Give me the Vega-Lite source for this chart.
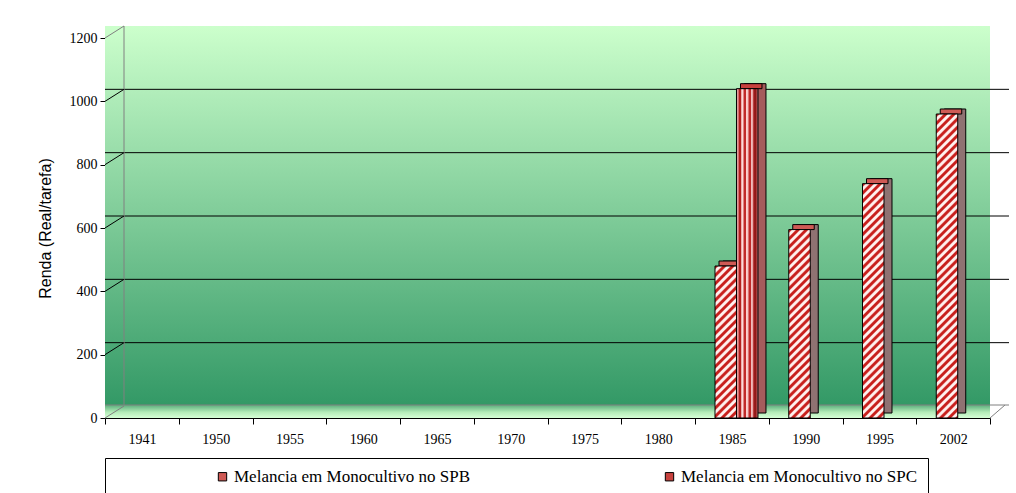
{
  "$schema": "https://vega.github.io/schema/vega-lite/v6.json",
  "width": 885,
  "height": 380,
  "autosize": {"type": "none"},
  "padding": {"left": 105, "top": 38, "right": 26, "bottom": 75},
  "background": "#ffffff",
  "config": {
    "view": {"stroke": null},
    "axis": {"grid": false},
    "axisX": {"labelAngle": 0, "labelFont": "Liberation Serif", "labelFontSize": 14, "labelColor": "#000000", "labelPadding": 8, "tickBand": "extent", "tickSize": 6, "tickColor": "#000000", "domainColor": "#000000", "zindex": 1},
    "axisY": {"labelFont": "Liberation Serif", "labelFontSize": 14, "labelColor": "#000000", "labelPadding": 3, "tickSize": 5, "tickColor": "#000000", "domainColor": "#000000", "zindex": 1, "titleFont": "Liberation Sans", "titleFontSize": 16, "titleFontWeight": "normal", "titleColor": "#000000"}
  },
  "params": [
    {"name": "stripes", "value": [
      {"offset":0,"color":"#c8201d"},{"offset":0.0075,"color":"#c8201d"},{"offset":0.0125,"color":"#fff0ee"},{"offset":0.02,"color":"#fff0ee"},
      {"offset":0.025,"color":"#c8201d"},{"offset":0.0325,"color":"#c8201d"},{"offset":0.0375,"color":"#fff0ee"},{"offset":0.045,"color":"#fff0ee"},
      {"offset":0.05,"color":"#c8201d"},{"offset":0.0575,"color":"#c8201d"},{"offset":0.0625,"color":"#fff0ee"},{"offset":0.07,"color":"#fff0ee"},
      {"offset":0.075,"color":"#c8201d"},{"offset":0.0825,"color":"#c8201d"},{"offset":0.0875,"color":"#fff0ee"},{"offset":0.095,"color":"#fff0ee"},
      {"offset":0.1,"color":"#c8201d"},{"offset":0.1075,"color":"#c8201d"},{"offset":0.1125,"color":"#fff0ee"},{"offset":0.12,"color":"#fff0ee"},
      {"offset":0.125,"color":"#c8201d"},{"offset":0.1325,"color":"#c8201d"},{"offset":0.1375,"color":"#fff0ee"},{"offset":0.145,"color":"#fff0ee"},
      {"offset":0.15,"color":"#c8201d"},{"offset":0.1575,"color":"#c8201d"},{"offset":0.1625,"color":"#fff0ee"},{"offset":0.17,"color":"#fff0ee"},
      {"offset":0.175,"color":"#c8201d"},{"offset":0.1825,"color":"#c8201d"},{"offset":0.1875,"color":"#fff0ee"},{"offset":0.195,"color":"#fff0ee"},
      {"offset":0.2,"color":"#c8201d"},{"offset":0.2075,"color":"#c8201d"},{"offset":0.2125,"color":"#fff0ee"},{"offset":0.22,"color":"#fff0ee"},
      {"offset":0.225,"color":"#c8201d"},{"offset":0.2325,"color":"#c8201d"},{"offset":0.2375,"color":"#fff0ee"},{"offset":0.245,"color":"#fff0ee"},
      {"offset":0.25,"color":"#c8201d"},{"offset":0.2575,"color":"#c8201d"},{"offset":0.2625,"color":"#fff0ee"},{"offset":0.27,"color":"#fff0ee"},
      {"offset":0.275,"color":"#c8201d"},{"offset":0.2825,"color":"#c8201d"},{"offset":0.2875,"color":"#fff0ee"},{"offset":0.295,"color":"#fff0ee"},
      {"offset":0.3,"color":"#c8201d"},{"offset":0.3075,"color":"#c8201d"},{"offset":0.3125,"color":"#fff0ee"},{"offset":0.32,"color":"#fff0ee"},
      {"offset":0.325,"color":"#c8201d"},{"offset":0.3325,"color":"#c8201d"},{"offset":0.3375,"color":"#fff0ee"},{"offset":0.345,"color":"#fff0ee"},
      {"offset":0.35,"color":"#c8201d"},{"offset":0.3575,"color":"#c8201d"},{"offset":0.3625,"color":"#fff0ee"},{"offset":0.37,"color":"#fff0ee"},
      {"offset":0.375,"color":"#c8201d"},{"offset":0.3825,"color":"#c8201d"},{"offset":0.3875,"color":"#fff0ee"},{"offset":0.395,"color":"#fff0ee"},
      {"offset":0.4,"color":"#c8201d"},{"offset":0.4075,"color":"#c8201d"},{"offset":0.4125,"color":"#fff0ee"},{"offset":0.42,"color":"#fff0ee"},
      {"offset":0.425,"color":"#c8201d"},{"offset":0.4325,"color":"#c8201d"},{"offset":0.4375,"color":"#fff0ee"},{"offset":0.445,"color":"#fff0ee"},
      {"offset":0.45,"color":"#c8201d"},{"offset":0.4575,"color":"#c8201d"},{"offset":0.4625,"color":"#fff0ee"},{"offset":0.47,"color":"#fff0ee"},
      {"offset":0.475,"color":"#c8201d"},{"offset":0.4825,"color":"#c8201d"},{"offset":0.4875,"color":"#fff0ee"},{"offset":0.495,"color":"#fff0ee"},
      {"offset":0.5,"color":"#c8201d"},{"offset":0.5075,"color":"#c8201d"},{"offset":0.5125,"color":"#fff0ee"},{"offset":0.52,"color":"#fff0ee"},
      {"offset":0.525,"color":"#c8201d"},{"offset":0.5325,"color":"#c8201d"},{"offset":0.5375,"color":"#fff0ee"},{"offset":0.545,"color":"#fff0ee"},
      {"offset":0.55,"color":"#c8201d"},{"offset":0.5575,"color":"#c8201d"},{"offset":0.5625,"color":"#fff0ee"},{"offset":0.57,"color":"#fff0ee"},
      {"offset":0.575,"color":"#c8201d"},{"offset":0.5825,"color":"#c8201d"},{"offset":0.5875,"color":"#fff0ee"},{"offset":0.595,"color":"#fff0ee"},
      {"offset":0.6,"color":"#c8201d"},{"offset":0.6075,"color":"#c8201d"},{"offset":0.6125,"color":"#fff0ee"},{"offset":0.62,"color":"#fff0ee"},
      {"offset":0.625,"color":"#c8201d"},{"offset":0.6325,"color":"#c8201d"},{"offset":0.6375,"color":"#fff0ee"},{"offset":0.645,"color":"#fff0ee"},
      {"offset":0.65,"color":"#c8201d"},{"offset":0.6575,"color":"#c8201d"},{"offset":0.6625,"color":"#fff0ee"},{"offset":0.67,"color":"#fff0ee"},
      {"offset":0.675,"color":"#c8201d"},{"offset":0.6825,"color":"#c8201d"},{"offset":0.6875,"color":"#fff0ee"},{"offset":0.695,"color":"#fff0ee"},
      {"offset":0.7,"color":"#c8201d"},{"offset":0.7075,"color":"#c8201d"},{"offset":0.7125,"color":"#fff0ee"},{"offset":0.72,"color":"#fff0ee"},
      {"offset":0.725,"color":"#c8201d"},{"offset":0.7325,"color":"#c8201d"},{"offset":0.7375,"color":"#fff0ee"},{"offset":0.745,"color":"#fff0ee"},
      {"offset":0.75,"color":"#c8201d"},{"offset":0.7575,"color":"#c8201d"},{"offset":0.7625,"color":"#fff0ee"},{"offset":0.77,"color":"#fff0ee"},
      {"offset":0.775,"color":"#c8201d"},{"offset":0.7825,"color":"#c8201d"},{"offset":0.7875,"color":"#fff0ee"},{"offset":0.795,"color":"#fff0ee"},
      {"offset":0.8,"color":"#c8201d"},{"offset":0.8075,"color":"#c8201d"},{"offset":0.8125,"color":"#fff0ee"},{"offset":0.82,"color":"#fff0ee"},
      {"offset":0.825,"color":"#c8201d"},{"offset":0.8325,"color":"#c8201d"},{"offset":0.8375,"color":"#fff0ee"},{"offset":0.845,"color":"#fff0ee"},
      {"offset":0.85,"color":"#c8201d"},{"offset":0.8575,"color":"#c8201d"},{"offset":0.8625,"color":"#fff0ee"},{"offset":0.87,"color":"#fff0ee"},
      {"offset":0.875,"color":"#c8201d"},{"offset":0.8825,"color":"#c8201d"},{"offset":0.8875,"color":"#fff0ee"},{"offset":0.895,"color":"#fff0ee"},
      {"offset":0.9,"color":"#c8201d"},{"offset":0.9075,"color":"#c8201d"},{"offset":0.9125,"color":"#fff0ee"},{"offset":0.92,"color":"#fff0ee"},
      {"offset":0.925,"color":"#c8201d"},{"offset":0.9325,"color":"#c8201d"},{"offset":0.9375,"color":"#fff0ee"},{"offset":0.945,"color":"#fff0ee"},
      {"offset":0.95,"color":"#c8201d"},{"offset":0.9575,"color":"#c8201d"},{"offset":0.9625,"color":"#fff0ee"},{"offset":0.97,"color":"#fff0ee"},
      {"offset":0.975,"color":"#c8201d"},{"offset":0.9825,"color":"#c8201d"},{"offset":0.9875,"color":"#fff0ee"},{"offset":0.995,"color":"#fff0ee"},
      {"offset":1,"color":"#c8201d"}
    ]},
    {"name": "spcgrad", "value": {"gradient": "linear", "x1": 0, "y1": 0, "x2": 1, "y2": 0, "stops": [
      {"offset":0,"color":"#eaa4a4"},{"offset":0.08,"color":"#e29494"},{"offset":0.12,"color":"#b3201f"},{"offset":0.19,"color":"#b3201f"},
      {"offset":0.24,"color":"#f6c4c4"},{"offset":0.3,"color":"#ffe6e6"},{"offset":0.35,"color":"#c22a2a"},{"offset":0.42,"color":"#c22a2a"},
      {"offset":0.47,"color":"#ffe2e2"},{"offset":0.54,"color":"#f2b4b4"},{"offset":0.58,"color":"#c02828"},{"offset":0.66,"color":"#c02828"},
      {"offset":0.7,"color":"#f4c0c0"},{"offset":0.77,"color":"#e39c9c"},{"offset":0.8,"color":"#a51c1c"},{"offset":0.9,"color":"#8e1818"},
      {"offset":0.94,"color":"#b04848"},{"offset":1,"color":"#c47a7a"}
    ]}}
  ],
  "data": {"values": [
    {"year": "1985", "series": "Melancia em Monocultivo no SPB", "value": 480},
    {"year": "1985", "series": "Melancia em Monocultivo no SPC", "value": 1040},
    {"year": "1990", "series": "Melancia em Monocultivo no SPB", "value": 595},
    {"year": "1995", "series": "Melancia em Monocultivo no SPB", "value": 740},
    {"year": "2002", "series": "Melancia em Monocultivo no SPB", "value": 960}
  ]},
  "resolve": {"scale": {"xOffset": "independent"}},
  "layer": [
    {
      "data": {"values": [{}]},
      "mark": {"type": "rect", "x2Offset": 15, "yOffset": -12, "y2Offset": -13,
        "fill": {"gradient": "linear", "x1": 0, "y1": 0, "x2": 0, "y2": 1, "stops": [{"offset": 0, "color": "#ccffcc"}, {"offset": 1, "color": "#339966"}]}},
      "encoding": {
        "y": {"datum": 1200, "type": "quantitative", "scale": {"domain": [0, 1200]}, "title": "Renda (Real/tarefa)",
          "axis": {"title": "Renda (Real/tarefa)", "values": [0, 200, 400, 600, 800, 1000, 1200], "format": "d", "titleX": -52, "titleY": 190, "grid": false}},
        "y2": {"datum": 0}
      }
    },
    {
      "data": {"values": [{}]},
      "mark": {"type": "rect", "x2Offset": 15, "yOffset": -13,
        "fill": {"gradient": "linear", "x1": 0, "y1": 0, "x2": 0, "y2": 1, "stops": [{"offset": 0, "color": "#5aae7c"}, {"offset": 0.55, "color": "#b4ecb8"}, {"offset": 1, "color": "#d6ffd6"}]}},
      "encoding": {"y": {"datum": 0, "type": "quantitative"}, "y2": {"datum": 0}}
    },
    {
      "data": {"values": [{"g": 200}, {"g": 400}, {"g": 600}, {"g": 800}, {"g": 1000}]},
      "mark": {"type": "rule", "color": "#000000", "strokeWidth": 1, "xOffset": 19, "x2Offset": 15, "yOffset": -12},
      "encoding": {"y": {"field": "g", "type": "quantitative", "title": "Renda (Real/tarefa)"}}
    },
    {
      "data": {"values": [{}]},
      "mark": {"type": "rule", "color": "#808080", "strokeWidth": 1, "xOffset": 19, "yOffset": -12, "y2Offset": -13},
      "encoding": {"x": {"datum": "1941", "type": "nominal", "bandPosition": 0}, "y": {"datum": 1200, "type": "quantitative"}, "y2": {"datum": 0}}
    },
    {
      "data": {"values": [{}]},
      "mark": {"type": "rule", "color": "#808080", "strokeWidth": 1, "xOffset": 19, "x2Offset": 15, "yOffset": -13},
      "encoding": {"y": {"datum": 0, "type": "quantitative"}}
    },
    {
      "data": {"values": [{"g": 200}, {"g": 400}, {"g": 600}, {"g": 800}, {"g": 1000}]},
      "mark": {"type": "rule", "color": "#000000", "strokeWidth": 1, "x2Offset": 19, "y2Offset": -12},
      "encoding": {"x": {"datum": "1941", "type": "nominal", "bandPosition": 0}, "x2": {"datum": "1941", "bandPosition": 0}, "y": {"field": "g", "type": "quantitative", "title": "Renda (Real/tarefa)"}, "y2": {"field": "g"}}
    },
    {
      "data": {"values": [{"g": 0}, {"g": 1200}]},
      "mark": {"type": "rule", "color": "#808080", "strokeWidth": 1, "x2Offset": 19, "y2Offset": -12},
      "encoding": {"x": {"datum": "1941", "type": "nominal", "bandPosition": 0}, "x2": {"datum": "1941", "bandPosition": 0}, "y": {"field": "g", "type": "quantitative", "title": "Renda (Real/tarefa)"}, "y2": {"field": "g"}}
    },
    {
      "mark": {"type": "bar", "yOffset": -5, "y2Offset": -5, "stroke": "#000000", "strokeWidth": 1},
      "encoding": {
        "x": {"field": "year", "type": "nominal", "title": null, "scale": {"domain": ["1941", "1950", "1955", "1960", "1965", "1970", "1975", "1980", "1985", "1990", "1995", "2002"], "paddingInner": 0, "paddingOuter": 0}, "axis": {"title": null}},
        "xOffset": {"field": "series", "type": "nominal", "scale": {"domain": ["Melancia em Monocultivo no SPB", "Melancia em Monocultivo no SPC"], "paddingInner": 0, "paddingOuter": 0.716, "align": 0.91}},
        "y": {"field": "value", "type": "quantitative", "title": "Renda (Real/tarefa)"},
        "fill": {"value": {"expr": "datum.series === 'Melancia em Monocultivo no SPC' ? '#a55c5c' : '#8f7272'"}}
      }
    },
    {
      "mark": {"type": "bar", "yOffset": -5, "stroke": "#000000", "strokeWidth": 1},
      "encoding": {
        "x": {"field": "year", "type": "nominal", "title": null},
        "xOffset": {"field": "series", "type": "nominal", "scale": {"domain": ["Melancia em Monocultivo no SPB", "Melancia em Monocultivo no SPC"], "paddingInner": 0, "paddingOuter": 0.716, "align": 0.78}},
        "y": {"field": "value", "type": "quantitative", "title": "Renda (Real/tarefa)"},
        "y2": {"field": "value"},
        "color": {"field": "series", "type": "nominal",
          "scale": {"domain": ["Melancia em Monocultivo no SPB", "Melancia em Monocultivo no SPC"], "range": ["#cf5a55", "#c8423e"]},
          "legend": {"orient": "none", "legendX": 0, "legendY": 420, "direction": "horizontal", "title": " ", "titleOrient": "left", "titlePadding": 99,
            "padding": 10, "strokeColor": "#000000", "fillColor": "#ffffff", "symbolType": "square", "symbolSize": 70, "symbolStrokeColor": "#000000", "symbolStrokeWidth": 1,
            "labelFont": "Liberation Serif", "labelFontSize": 17, "labelColor": "#000000", "labelLimit": 0, "labelOffset": 3, "columnPadding": 190}
        }
      }
    },
    {
      "mark": {"type": "bar", "stroke": "#000000", "strokeWidth": 1},
      "encoding": {
        "x": {"field": "year", "type": "nominal", "title": null},
        "xOffset": {"field": "series", "type": "nominal", "scale": {"domain": ["Melancia em Monocultivo no SPB", "Melancia em Monocultivo no SPC"], "paddingInner": 0, "paddingOuter": 0.716, "align": 0.65}},
        "y": {"field": "value", "type": "quantitative", "title": "Renda (Real/tarefa)"},
        "fill": {"value": {"expr": "datum.series === 'Melancia em Monocultivo no SPC' ? spcgrad : {gradient: 'linear', x1: 0, y1: 0, x2: 7138 / (462.25 + pow(datum.value * 0.316667, 2)), y2: 332 * datum.value * 0.316667 / (462.25 + pow(datum.value * 0.316667, 2)), stops: stripes}"}}
      }
    },
    {
      "data": {"values": [{}]},
      "mark": {"type": "rule", "color": "#808080", "strokeWidth": 1, "x2Offset": 15, "y2Offset": -13},
      "encoding": {"x": {"datum": "2002", "type": "nominal", "bandPosition": 1}, "x2": {"datum": "2002", "bandPosition": 1}, "y": {"datum": 0, "type": "quantitative"}, "y2": {"datum": 0}}
    }
  ]
}
